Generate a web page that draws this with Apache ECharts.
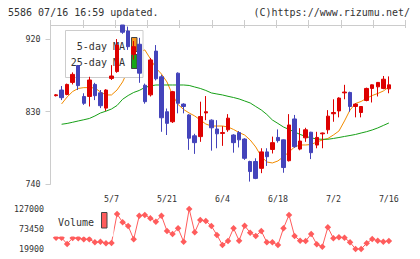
<!DOCTYPE html>
<html><head><meta charset="utf-8">
<script src="https://cdn.jsdelivr.net/npm/echarts@6/dist/echarts.min.js"></script>
<style>html,body{margin:0;padding:0;background:#fff}#c{width:420px;height:259px}</style>
</head><body><div id="c"></div>
<script>
// ---- data ----
const tickLabels = ['5/7', '5/21', '6/4', '6/18', '7/2', '7/16'];
const labelSlots = [11, 21, 31, 41, 51, 61];
const slotCount = 65;      // x slots on the axis (first trading day sits in slot 1)
// [open, close, low, high]
const candles = [
  [850, 851, 849, 852], [857, 847.5, 844.5, 862], [851.5, 864, 850.5, 865], [866.5, 876.5, 864, 879],
  [887.5, 862.5, 857, 888], [849, 840.5, 838.5, 853], [849, 869.5, 836.5, 873.5], [864, 850, 844.5, 866],
  [853.5, 837.5, 834.5, 857], [834.5, 857, 831, 858], [871.5, 874.5, 869.5, 888], [880, 913, 878.5, 920.5],
  [938, 929, 927, 938], [930.5, 911, 907, 936], [901.5, 911, 895, 918], [914, 878, 866, 922],
  [863, 842.5, 840, 865], [851, 894.5, 849, 897], [905.5, 871, 869, 913], [873.5, 822.5, 805, 876],
  [830, 815.5, 801, 834], [817.5, 855, 816, 856], [878, 840.5, 828, 879], [839.5, 836.5, 828, 840.5],
  [826, 797, 782.5, 827], [800, 791.5, 777.5, 802.5], [799, 824, 792.5, 842.5], [828.5, 830, 819.5, 849.5],
  [819.5, 810, 781.5, 820.5], [808.5, 802.5, 784.5, 819.5], [803, 804, 787.5, 812], [807.5, 822, 805, 827],
  [801, 791.5, 779, 802], [804, 795, 785.5, 806], [796, 772, 770, 797], [768, 755.5, 743, 769],
  [768, 747, 746, 772], [759.5, 780, 753.5, 784.5], [780, 774, 762.5, 784.5], [783, 791.5, 778, 799],
  [798, 794, 791.5, 808], [795, 760.5, 754, 795.5], [769, 813.5, 768, 827], [821, 786.5, 785, 826],
  [783.5, 793.5, 782, 809.5], [797.5, 807.5, 792.5, 810], [804.5, 779, 771, 805], [788.5, 798, 784.5, 805],
  [802.5, 803.5, 784.5, 804], [807.5, 824.5, 802.5, 832], [827.5, 829, 817.5, 845.5], [831, 847, 823, 848],
  [853.5, 854.5, 845.5, 863.5], [854, 836.5, 830, 855], [836.5, 839.5, 823, 840.5], [829, 836.5, 823, 837],
  [844, 859, 843, 860], [859, 863.5, 841.5, 864], [861, 866.5, 849, 867], [859, 870.5, 858, 874.5],
  [858.5, 863.5, 853, 874]
];
const ma5 = [null, 839.7, 848.4, 855.2, 859, 860, 860, 859.6, 854.6, 850.9, 850.9, 857.1, 867.1, 882, 894.5,
  904.4, 907, 896, 884.5, 877, 867, 851, 839, 832.8, 828.4, 824.7, 819.7, 814.7, 812.2, 812.2, 812.2, 811,
  807.9, 804.1, 801, 794.8, 786.1, 774.3, 767.4, 766.2, 768.7, 774, 779.9, 786.1, 788.6, 788.6, 789.2, 792.3,
  794.8, 796.7, 801, 806, 818.5, 832.2, 840.3, 842.8, 846.8, 850.2, 852.7, 855.8, 860.8];
const ma25 = [null, 814.4, 815.4, 816.9, 818.5, 820, 821.6, 824.7, 828.4, 830.7, 833.4, 837.8, 845.5, 850.2,
  854, 856.5, 860.2, 862.1, 863.3, 863.3, 863.3, 863.3, 863.3, 863.3, 862.7, 860.8, 859, 856.5, 853.4, 852.1,
  850.9, 849.2, 847.7, 845.9, 843.4, 840.9, 836.5, 832.2, 826.6, 819.7, 815.4, 811, 807.9, 804.8, 801.7, 799.2,
  797.5, 796, 795.7, 795.7, 796.7, 797.9, 799.2, 800.4, 801.7, 803.5, 805.2, 807.3, 809.8, 812.9, 816];
const volume = [50000, 50000, 33300, 49400, 48600, 45900, 45900, 37800, 39500, 35200, 36000, 113600, 91400,
  81500, 45900, 109100, 110900, 102100, 93000, 109100, 68100, 60100, 75300, 39500, 127000, 64600, 97600, 94900,
  81500, 57400, 30600, 41300, 75300, 42100, 82300, 63500, 54700, 68100, 37800, 37800, 30600, 75300, 110900,
  54700, 42100, 41300, 60100, 32500, 26100, 78000, 48600, 51200, 50200, 37800, 20000, 19900, 35200, 46700,
  42100, 39500, 41300];
const priceTicks = [740, 830, 920];
const volumeTicks = [19900, 73450, 127000];

// ---- build ----
const categories = [];
for (let i = 0; i < slotCount; i++) {
  const k = labelSlots.indexOf(i);
  categories.push(k >= 0 ? tickLabels[k] : String(i));
}
function pad(arr) {
  const out = ['-'];
  arr.forEach(v => out.push(v == null ? '-' : v));
  while (out.length < slotCount) out.push('-');
  return out;
}
const FONT = 'DejaVu Sans Mono';
const AX = '#cccccc';
const TXT = '#333333';

const chart = echarts.init(document.getElementById('c'), null, {renderer: 'svg', width: 420, height: 259});
chart.setOption({
  animation: false,
  textStyle: {fontFamily: FONT},
  grid: [
    {left: 50.5, right: 14.5, top: 25, height: 159},
    {left: 50.5, right: 14.5, top: 209, height: 40}
  ],
  xAxis: [
    {type: 'category', gridIndex: 0, data: categories, boundaryGap: false,
     axisLine: {show: false}, axisTick: {show: false}, splitLine: {show: false},
     axisLabel: {interval: (i) => labelSlots.indexOf(i) >= 0, fontSize: 8.3, color: TXT, margin: 11, fontFamily: FONT}},
    {type: 'value', gridIndex: 0, min: 0, max: 11, interval: 1,
     axisLine: {show: true, lineStyle: {color: AX}}, axisTick: {show: true, length: 5, lineStyle: {color: AX}},
     axisLabel: {show: false}, splitLine: {show: false}},
    {type: 'value', gridIndex: 0, min: 0, max: 11, interval: 1,
     axisLine: {show: false}, axisTick: {show: true, inside: true, length: 3, lineStyle: {color: AX}},
     axisLabel: {show: false}, splitLine: {show: false}},
    {type: 'category', gridIndex: 1, data: categories, boundaryGap: false, show: false}
  ],
  yAxis: [
    {type: 'value', gridIndex: 0, min: 740, max: 938, interval: 90,
     axisLine: {show: true, lineStyle: {color: AX}},
     axisTick: {show: true, length: 5, lineStyle: {color: AX}, customValues: priceTicks},
     axisLabel: {fontSize: 8.3, color: TXT, margin: 10, fontFamily: FONT, customValues: priceTicks},
     splitLine: {show: false}},
    {type: 'value', gridIndex: 0, min: 740, max: 938, interval: 90,
     axisLine: {show: false},
     axisTick: {show: true, inside: true, length: 3, lineStyle: {color: AX}, customValues: priceTicks},
     axisLabel: {show: false}, splitLine: {show: false}},
    {type: 'value', gridIndex: 1, min: 19900, max: 127000, interval: 53550,
     axisLine: {show: false}, axisTick: {show: false}, splitLine: {show: false},
     axisLabel: {fontSize: 8.3, color: TXT, margin: 6.5, fontFamily: FONT, customValues: volumeTicks,
       formatter: (v) => String(Math.round(v))}}
  ],
  series: [
    {type: 'line', name: '5-day MA', xAxisIndex: 0, yAxisIndex: 0, data: pad(ma5), symbol: 'none',
     lineStyle: {color: '#f28c00', width: 1}, z: 1},
    {type: 'line', name: '25-day MA', xAxisIndex: 0, yAxisIndex: 0, data: pad(ma25), symbol: 'none',
     lineStyle: {color: '#16a016', width: 1}, z: 1},
    {type: 'candlestick', xAxisIndex: 0, yAxisIndex: 0, data: pad(candles), barWidth: 4, z: 3,
     itemStyle: {color: '#dd0000', color0: '#4444bb', borderColor: '#dd0000', borderColor0: '#4444bb', borderWidth: 1}},
    {type: 'line', name: 'Volume', xAxisIndex: 3, yAxisIndex: 2, data: pad(volume), symbol: 'diamond',
     showAllSymbol: true, symbolSize: 6.5, lineStyle: {color: '#ff5c5c', width: 1},
     itemStyle: {color: '#ff5c5c'}, z: 1}
  ],
  graphic: [
    {type: 'text', z: 5, style: {text: '5586 07/16 16:59 updated.', x: 8, y: 12.7, fill: TXT,
      font: '10px "DejaVu Sans Mono"', align: 'left', verticalAlign: 'middle', textAlign: 'left', textVerticalAlign: 'middle'}},
    {type: 'text', z: 5, style: {text: '(C)https://www.rizumu.net/', x: 410, y: 12.7, fill: TXT,
      font: '10px "DejaVu Sans Mono"', align: 'right', verticalAlign: 'middle', textAlign: 'right', textVerticalAlign: 'middle'}},
    // price legend (under candles, over MA lines)
    {type: 'rect', z: 2, shape: {x: 65.5, y: 30.5, width: 77.5, height: 47}, style: {fill: '#ffffff', stroke: '#cccccc', lineWidth: 1}},
    {type: 'text', z: 2, style: {text: '5-day MA', x: 125, y: 46.5, fill: TXT, font: '10px "DejaVu Sans Mono"',
      align: 'right', verticalAlign: 'middle', textAlign: 'right', textVerticalAlign: 'middle'}},
    {type: 'text', z: 2, style: {text: '25-day MA', x: 125, y: 62.5, fill: TXT, font: '10px "DejaVu Sans Mono"',
      align: 'right', verticalAlign: 'middle', textAlign: 'right', textVerticalAlign: 'middle'}},
    {type: 'rect', z: 2, shape: {x: 131.5, y: 37.5, width: 5.5, height: 14}, style: {fill: '#f7941d', stroke: '#444444', lineWidth: 1}},
    {type: 'rect', z: 2, shape: {x: 131.5, y: 54.5, width: 5.5, height: 14}, style: {fill: '#17a617', stroke: '#444444', lineWidth: 1}},
    // volume legend
    {type: 'rect', z: 2, shape: {x: 51, y: 205, width: 62.5, height: 31.5}, style: {fill: '#ffffff', stroke: null}},
    {type: 'text', z: 4, style: {text: 'Volume', x: 58, y: 222.5, fill: TXT, font: '10px "DejaVu Sans Mono"',
      align: 'left', verticalAlign: 'middle', textAlign: 'left', textVerticalAlign: 'middle'}},
    {type: 'rect', z: 4, shape: {x: 101.5, y: 212.5, width: 5.5, height: 15.5}, style: {fill: '#ff5c5c', stroke: '#444444', lineWidth: 1}}
  ]
});
</script></body></html>
